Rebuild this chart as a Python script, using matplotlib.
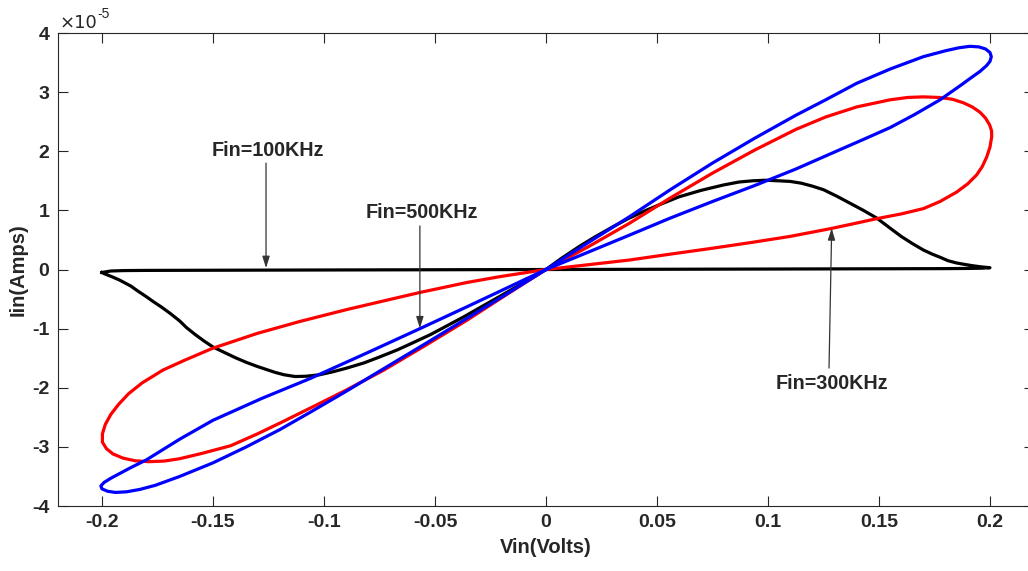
import matplotlib
matplotlib.use('Agg')
import matplotlib.pyplot as plt
from matplotlib.ticker import ScalarFormatter
import numpy as np

plt.rcParams['font.family'] = ['Liberation Sans', 'DejaVu Sans']
plt.rcParams['font.weight'] = 'bold'
plt.rcParams['axes.unicode_minus'] = False

TXT = '#262626'

# 100 kHz loop (current in units of 1e-5 A): flat branch, hump, trough
vin_100k = [-0.200, -0.196, -0.190, -0.180, -0.100, 0.000, 0.100, 0.180, 0.190, 0.196, 0.200,
            0.196, 0.192, 0.188, 0.185, 0.181, 0.178, 0.174, 0.170, 0.165, 0.160, 0.155,
            0.149, 0.143, 0.137, 0.131, 0.125, 0.120, 0.115, 0.110, 0.105, 0.099, 0.093,
            0.087, 0.080, 0.070, 0.060, 0.052, 0.045, 0.037, 0.030, 0.022, 0.015, 0.007, 0.000,
            -0.007, -0.015, -0.022, -0.030, -0.037, -0.045, -0.052, -0.060, -0.067, -0.075,
            -0.082, -0.090, -0.096, -0.102, -0.108, -0.113, -0.118, -0.122, -0.126, -0.130,
            -0.135, -0.140, -0.145, -0.150, -0.154, -0.158, -0.162, -0.165, -0.169, -0.173,
            -0.177, -0.180, -0.184, -0.187, -0.190, -0.192, -0.195, -0.197, -0.199, -0.200]
iin_100k = [-0.05, -0.025, -0.018, -0.015, -0.008, 0.0, 0.008, 0.015, 0.018, 0.022, 0.03,
            0.045, 0.065, 0.09, 0.11, 0.15, 0.20, 0.26, 0.33, 0.44, 0.56, 0.70,
            0.87, 1.00, 1.12, 1.24, 1.35, 1.41, 1.46, 1.49, 1.50, 1.51, 1.50,
            1.48, 1.43, 1.34, 1.23, 1.11, 1.00, 0.86, 0.72, 0.55, 0.39, 0.19, 0.0,
            -0.16, -0.33, -0.48, -0.65, -0.80, -0.96, -1.10, -1.24, -1.36, -1.48,
            -1.58, -1.67, -1.73, -1.78, -1.805, -1.81, -1.78, -1.74, -1.69, -1.64,
            -1.57, -1.49, -1.40, -1.31, -1.21, -1.10, -0.98, -0.87, -0.75, -0.64,
            -0.54, -0.46, -0.36, -0.28, -0.22, -0.18, -0.13, -0.10, -0.07, -0.05]

# 300 kHz loop
vin_300k = [0.0, 0.0188, 0.0375, 0.056, 0.075, 0.094, 0.1126, 0.126, 0.140, 0.155,
            0.163, 0.170, 0.177, 0.183, 0.188, 0.192, 0.1955, 0.198, 0.1998, 0.2007,
            0.2008, 0.2, 0.1985, 0.1965, 0.194, 0.190, 0.185, 0.1775, 0.170, 0.160,
            0.149, 0.138, 0.128, 0.110, 0.093, 0.075, 0.056, 0.0375, 0.0188, 0.0,
            -0.0207, -0.0357, -0.057, -0.073, -0.090, -0.111, -0.130, -0.150, -0.1625,
            -0.1725, -0.182, -0.188, -0.1925, -0.196, -0.1985, -0.1998, -0.1998, -0.198,
            -0.195, -0.1905, -0.185, -0.179, -0.172, -0.165, -0.155, -0.142, -0.130,
            -0.120, -0.106, -0.090, -0.073, -0.055, -0.0357, -0.018, 0.0]
iin_300k = [0.0, 0.38, 0.78, 1.21, 1.63, 2.02, 2.37, 2.58, 2.75, 2.87,
            2.91, 2.92, 2.91, 2.88, 2.82, 2.75, 2.66, 2.56, 2.45, 2.35,
            2.25, 2.07, 1.90, 1.74, 1.60, 1.45, 1.31, 1.15, 1.03, 0.94,
            0.86, 0.77, 0.69, 0.56, 0.46, 0.36, 0.26, 0.16, 0.08, 0.0,
            -0.12, -0.22, -0.39, -0.53, -0.68, -0.88, -1.08, -1.33, -1.53,
            -1.70, -1.92, -2.10, -2.28, -2.45, -2.62, -2.78, -2.92, -3.03,
            -3.12, -3.19, -3.235, -3.25, -3.24, -3.20, -3.11, -2.98, -2.78,
            -2.60, -2.34, -2.04, -1.70, -1.30, -0.86, -0.43, 0.0]

# 500 kHz loop
vin_500k = [0.0, 0.0188, 0.0375, 0.056, 0.075, 0.094, 0.1126, 0.126, 0.140, 0.155,
            0.170, 0.180, 0.186, 0.191, 0.195, 0.198, 0.200, 0.2006, 0.200, 0.1985,
            0.1955, 0.191, 0.187, 0.1775, 0.166, 0.155, 0.143, 0.132, 0.1126, 0.094,
            0.075, 0.056, 0.0375, 0.0188, 0.0,
            -0.0188, -0.0375, -0.055, -0.075, -0.090, -0.106, -0.120, -0.135, -0.150,
            -0.165, -0.176, -0.183, -0.189, -0.194, -0.1975, -0.200, -0.2005, -0.199,
            -0.196, -0.192, -0.187, -0.180, -0.165, -0.150, -0.128, -0.106, -0.080,
            -0.0568, -0.035, -0.0175, 0.0]
iin_500k = [0.0, 0.45, 0.89, 1.35, 1.80, 2.22, 2.61, 2.87, 3.15, 3.39,
            3.60, 3.70, 3.75, 3.775, 3.765, 3.73, 3.67, 3.60, 3.52, 3.45,
            3.35, 3.23, 3.12, 2.87, 2.62, 2.40, 2.20, 2.02, 1.70, 1.42,
            1.15, 0.87, 0.58, 0.29, 0.0,
            -0.44, -0.87, -1.27, -1.72, -2.06, -2.41, -2.71, -3.00, -3.27,
            -3.50, -3.65, -3.72, -3.76, -3.77, -3.75, -3.71, -3.66, -3.60,
            -3.53, -3.45, -3.35, -3.22, -2.87, -2.55, -2.18, -1.84, -1.40,
            -1.00, -0.62, -0.31, 0.0]

# label text, text centre (V, I), arrow base, arrow tip
notes = [
    ('Fin=100KHz', (-0.1252, 2.005), (-0.1261, 1.80), (-0.1261, 0.025)),
    ('Fin=500KHz', (-0.0560, 0.956), (-0.0568, 0.736), (-0.0568, -0.995)),
    ('Fin=300KHz', (0.1287, -1.92), (0.1275, -1.667), (0.1287, 0.697)),
]

fig = plt.figure(figsize=(10.28, 5.71), dpi=100)
ax = fig.add_axes([0.056, 0.1138, 0.9502, 0.8284])

scale = 1e-5
for v, i, c in [(vin_100k, iin_100k, 'black'), (vin_300k, iin_300k, 'red'),
                (vin_500k, iin_500k, 'blue')]:
    ax.plot(v, np.array(i) * scale, color=c, lw=2.3, solid_joinstyle='round')

for label, txt_pos, base, tip in notes:
    ax.annotate('', xy=(tip[0], tip[1] * scale), xytext=(base[0], base[1] * scale),
                arrowprops=dict(arrowstyle='-|>,head_length=0.7,head_width=0.22',
                                color='#333333', lw=0.9, shrinkA=0, shrinkB=0))
    ax.text(txt_pos[0], txt_pos[1] * scale, label, ha='center', va='center',
            fontsize=14.2, fontweight='bold', color=TXT)

ax.set_xlim(-0.22, 0.22)
ax.set_ylim(-4e-5, 4e-5)
ax.set_xticks([-0.2, -0.15, -0.1, -0.05, 0, 0.05, 0.1, 0.15, 0.2])
ax.set_xticklabels(['-0.2', '-0.15', '-0.1', '-0.05', '0', '0.05', '0.1', '0.15', '0.2'])
ax.set_yticks(np.arange(-4, 5) * 1e-5)

# y ticks in units of 1e-5, exponent written above the axis
fmt = ScalarFormatter()
fmt.set_powerlimits((0, 0))
ax.yaxis.set_major_formatter(fmt)
ax.yaxis.get_offset_text().set_visible(False)
ax.text(0.002, 1.0106, '×10', transform=ax.transAxes, ha='left', va='baseline',
        fontsize=13, fontweight='normal', color=TXT, family='DejaVu Sans')
ax.text(0.0405, 1.026, '-5', transform=ax.transAxes, ha='left', va='bottom',
        fontsize=10, fontweight='normal', color=TXT)

ax.tick_params(direction='in', length=7, width=0.8, top=True, right=True,
               labelsize=14, colors=TXT, pad=6)
for lab in ax.get_xticklabels() + ax.get_yticklabels():
    lab.set_fontweight('bold')
for sp in ax.spines.values():
    sp.set_color(TXT)
    sp.set_linewidth(0.8)

ax.set_xlabel('Vin(Volts)', fontsize=14.5, fontweight='bold', color=TXT, labelpad=5)
ax.set_ylabel('Iin(Amps)', fontsize=14.5, fontweight='bold', color=TXT, labelpad=3)

fig.savefig('out.png', dpi=100)
